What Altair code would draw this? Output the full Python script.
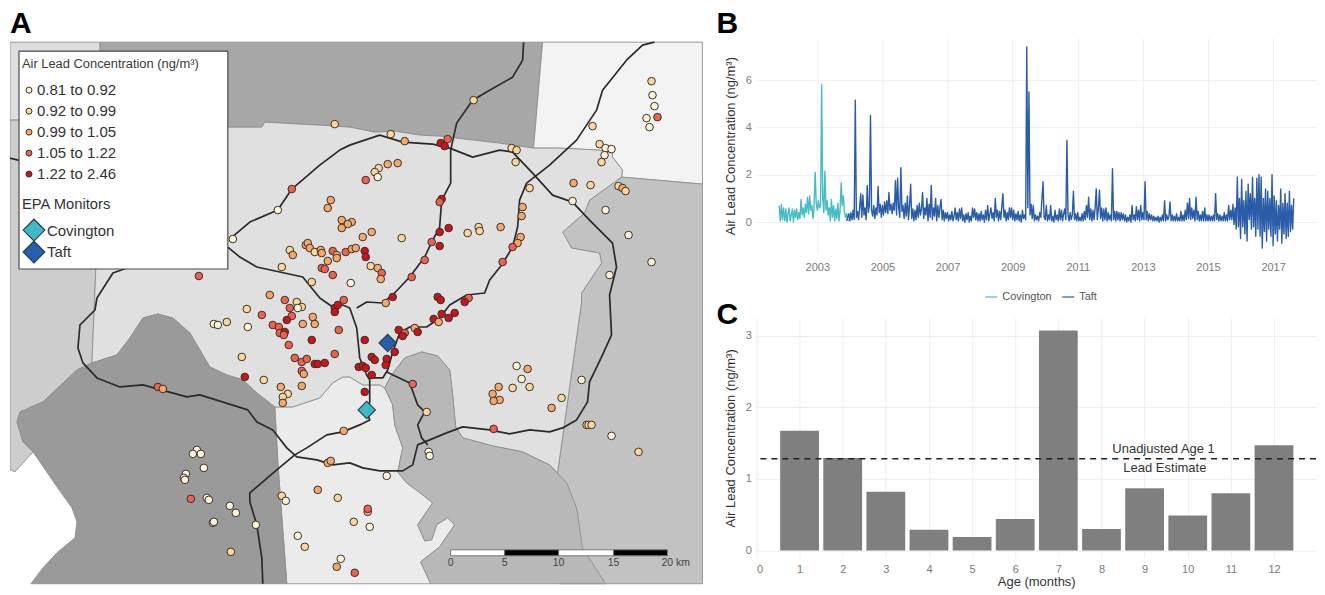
import altair as alt
import pandas as pd

FONT = "Liberation Sans"

# ---------- panel B: weekly air lead series ----------
cov_2001 = [0.7, 0.05, 0.75, 0.1, 0.6]
cov_2002 = [0.05, 0.55, 0.0, 0.35, 0.6, 0.05, 0.3, 0.55, 0.0, 0.5, 0.2, 0.55, 0.1, 0.4, 0.15, 0.95, 0.3, 0.6, 0.2, 0.75, 0.4, 1.05, 0.35, 1.1, 0.5, 0.7, 0.15, 0.6, 2.1, 0.8]
cov_2003 = [0.5, 0.9, 0.6, 0.7, 5.8, 1.0, 0.4, 2.15, 0.5, 0.9, 0.3, 0.6, 0.05, 0.95, 0.2, 0.7, 0.05, 0.55, 0.15, 0.8, 0.05, 0.5, 1.65, 0.7, 1.1, 0.4, 0.2, 0.35, 0.1, 0.05]
taft_2003 = [0.05, 0.2, 0.35]
taft_2004 = [0.05, 0.4, 0.1, 0.5, 0.1, 5.15, 0.2, 0.45, 0.1, 0.6, 1.2, 0.2, 1.15, 0.3, 0.6, 0.1, 1.55, 0.4, 0.7, 4.5, 0.5, 0.25, 0.7, 0.15, 0.6, 0.3, 1.5, 0.4, 0.75, 0.2]
taft_2005 = [0.7, 0.3, 0.85, 0.4, 0.9, 0.35, 1.25, 0.5, 0.75, 0.35, 0.8, 0.5, 1.75, 0.3, 1.85, 0.6, 0.2, 2.3, 0.45, 0.7, 0.15, 0.8, 0.25, 1.1, 0.1, 0.7, 1.6, 0.15, 0.55, 0.05]
taft_2006 = [0.5, 0.1, 0.7, 0.2, 0.8, 0.3, 0.55, 1.25, 0.15, 0.6, 0.3, 1.0, 0.05, 0.75, 0.2, 1.55, 0.1, 0.6, 0.25, 1.0, 0.05, 0.7, 0.2, 0.6, 0.95, 0.1, 0.5, 0.05, 0.4, 0.15]
taft_2007 = [0.4, 0.05, 0.3, 0.1, 0.45, 0.05, 0.25, 0.6, 0.1, 0.4, 0.05, 0.55, 0.15, 0.6, 0.05, 0.3, 0.0, 0.35, 0.1, 0.4, 0.0, 0.25, 0.05, 0.6, 0.2, 0.55, 0.1, 0.4, 0.05, 0.35]
taft_2008 = [0.05, 0.45, 0.1, 0.3, 0.0, 0.5, 0.1, 0.7, 0.05, 0.35, 0.6, 0.15, 0.4, 0.05, 1.0, 0.2, 0.5, 0.05, 0.45, 0.1, 0.65, 1.2, 0.2, 0.5, 0.05, 0.4, 0.1, 0.6, 0.2, 0.6]
taft_2009 = [0.1, 0.5, 0.05, 0.35, 0.1, 0.45, 0.05, 0.3, 0.0, 0.5, 0.15, 0.3, 0.1, 7.4, 0.6, 5.5, 0.3, 0.75, 0.15, 0.7, 0.05, 0.3, 0.1, 0.25, 0.05, 0.4, 0.2, 1.0, 1.7, 0.2]
taft_2010 = [0.1, 0.7, 0.05, 0.3, 0.1, 0.7, 0.05, 0.25, 0.0, 0.5, 0.1, 0.3, 0.05, 0.55, 0.1, 0.5, 0.05, 0.35, 0.55, 0.1, 3.45, 0.3, 0.05, 0.4, 0.1, 0.3, 1.3, 0.1, 0.35, 0.05]
taft_2011 = [0.4, 0.05, 0.2, 0.05, 0.35, 0.05, 0.45, 0.1, 0.7, 0.2, 1.05, 0.1, 0.55, 0.05, 0.5, 0.1, 0.6, 1.4, 0.1, 0.55, 1.35, 0.15, 0.6, 0.05, 0.55, 0.1, 0.6, 0.05, 0.4, 0.1]
taft_2012 = [0.3, 0.05, 2.25, 0.1, 0.45, 0.05, 0.45, 0.1, 0.4, 0.05, 0.4, 0.1, 0.35, 0.05, 0.3, 0.0, 0.2, 0.05, 0.3, 0.0, 0.7, 0.1, 0.3, 0.05, 0.65, 0.1, 0.5, 0.05, 0.7, 0.1]
taft_2013 = [0.4, 0.1, 1.7, 0.1, 0.45, 0.05, 0.35, 0.1, 0.3, 0.05, 0.25, 0.05, 0.2, 0.05, 0.25, 0.0, 0.2, 0.05, 0.3, 0.05, 0.9, 0.05, 0.3, 0.1, 0.25, 0.85, 0.05, 0.3, 0.05, 0.25]
taft_2014 = [0.05, 0.35, 0.05, 0.2, 0.05, 0.45, 0.05, 0.3, 0.05, 0.5, 0.1, 0.8, 0.15, 1.0, 0.1, 0.6, 0.15, 0.5, 0.05, 1.05, 0.1, 0.45, 0.05, 0.3, 0.05, 0.45, 0.05, 0.6, 0.05, 0.3]
taft_2015 = [0.05, 0.3, 0.05, 0.25, 0.05, 0.3, 0.05, 1.2, 0.1, 0.35, 0.05, 0.3, 0.05, 0.25, 0.05, 0.4, 0.05, 0.3, 0.05, 0.7, 0.1, 0.5, 0.1, 0.75, -0.1, 0.6, -0.3, 1.9, -0.2, 1.0]
taft_2016 = [-0.7, 1.8, -0.2, 0.9, -0.5, 1.3, -0.8, 1.6, 0.1, 1.2, -0.3, 1.9, -0.2, 1.0, -0.6, 1.85, -0.3, 2.0, -0.6, 1.9, -1.1, 1.0, -0.4, 1.4, -0.8, 1.3, -0.3, 1.0, -0.6, 2.0]
taft_2017 = [-1.0, 1.1, -0.5, 0.9, -0.8, 0.7, -0.3, 1.4, -0.9, 0.8, -0.5, 1.2, -0.7, 0.8, -0.6, 1.3, -0.4, 0.7, -0.3, 1.0]

series_b = [
    ("Covington", 2001.83, cov_2001), ("Covington", 2002.0, cov_2002), ("Covington", 2003.0, cov_2003),
    ("Taft", 2003.9, taft_2003), ("Taft", 2004.0, taft_2004), ("Taft", 2005.0, taft_2005),
    ("Taft", 2006.0, taft_2006), ("Taft", 2007.0, taft_2007), ("Taft", 2008.0, taft_2008),
    ("Taft", 2009.0, taft_2009), ("Taft", 2010.0, taft_2010), ("Taft", 2011.0, taft_2011),
    ("Taft", 2012.0, taft_2012), ("Taft", 2013.0, taft_2013), ("Taft", 2014.0, taft_2014),
    ("Taft", 2015.0, taft_2015), ("Taft", 2016.0, taft_2016), ("Taft", 2017.0, taft_2017),
]
rows_b = []
for station, start, vals in series_b:
    for i, v in enumerate(vals):
        rows_b.append({"year": start + i / 30, "lead": v, "station": station})
df_b = pd.DataFrame(rows_b)

# ---------- panel C ----------
ages = list(range(1, 13))
age_lead = [1.67, 1.29, 0.82, 0.29, 0.19, 0.44, 3.07, 0.30, 0.87, 0.49, 0.80, 1.47]
unadjusted = 1.28

# ---------- panel A: map geometry in map units ----------
frame = [[10, 8], [757, 8], [757, 585], [10, 585]]
top_left = [[10, 42], [100, 42], [102, 120], [10, 120]]
left_strip = [[10, 120], [102, 120], [92, 363], [77, 370], [43, 402], [20, 412], [17, 422], [23, 442], [33, 452], [15, 472], [10, 470]]
north_dark = [[100, 42], [543, 42], [534, 148], [500, 143], [465, 139], [440, 136], [420, 135], [395, 131], [375, 132], [350, 127], [320, 125], [265, 122], [262, 127], [228, 127], [102, 120]]
north_east = [[543, 42], [703, 42], [703, 184], [622, 177], [623, 170], [613, 157], [613, 153], [600, 150], [560, 148], [534, 148]]
east_county = [[622, 177], [703, 184], [703, 584], [560, 584], [558, 473], [582, 302], [582, 293], [602, 263], [600, 253], [572, 248], [563, 232], [585, 213], [590, 200]]
central = [[102, 120], [228, 127], [262, 127], [265, 122], [320, 125], [350, 127], [375, 132], [395, 131], [420, 135], [440, 136], [465, 139], [500, 143], [534, 148], [560, 148], [600, 150], [613, 153], [613, 157], [623, 170], [622, 177], [590, 200], [585, 213], [563, 232], [572, 248], [600, 253], [602, 263], [582, 293], [582, 302], [558, 473], [550, 465], [523, 452], [493, 446], [463, 438], [456, 427], [453, 395], [450, 370], [438, 356], [422, 352], [405, 358], [392, 375], [385, 388], [380, 385], [363, 385], [350, 377], [343, 377], [333, 383], [320, 398], [293, 407], [275, 407], [257, 393], [243, 380], [227, 375], [210, 367], [190, 333], [173, 318], [158, 314], [143, 318], [130, 338], [117, 355], [92, 363]]
south_light = [[275, 407], [293, 407], [320, 398], [333, 383], [343, 377], [350, 377], [363, 385], [380, 385], [385, 388], [393, 405], [395, 425], [403, 448], [398, 472], [407, 483], [423, 495], [433, 503], [418, 525], [425, 541], [432, 540], [437, 525], [448, 518], [455, 525], [440, 547], [421, 562], [431, 584], [287, 584], [278, 462]]
west_dark = [[17, 422], [20, 412], [43, 402], [77, 370], [92, 363], [117, 355], [130, 338], [143, 318], [158, 314], [173, 318], [190, 333], [210, 367], [227, 375], [243, 380], [257, 393], [275, 407], [278, 462], [287, 584], [31, 584], [43, 568], [57, 553], [75, 538], [77, 522], [72, 508], [57, 487], [40, 462], [33, 452], [23, 442]]
river_county = [[385, 388], [392, 375], [405, 358], [422, 352], [438, 356], [450, 370], [453, 395], [456, 427], [463, 438], [493, 446], [523, 452], [550, 465], [567, 483], [577, 508], [583, 548], [606, 584], [431, 584], [421, 562], [440, 547], [455, 525], [448, 518], [437, 525], [432, 540], [425, 541], [418, 525], [433, 503], [423, 495], [407, 483], [398, 472], [403, 448], [395, 425], [393, 405]]
polygons = [(top_left, "#dedede"), (left_strip, "#cdcdcd"), (north_dark, "#a7a7a7"), (north_east, "#f3f3f3"),
            (east_county, "#c2c2c2"), (south_light, "#ebebeb"), (central, "#e0e0e0"), (west_dark, "#9a9a9a"),
            (river_county, "#b8b8b8")]

road_ring = [[127, 268], [113, 273], [97, 298], [95, 310], [80, 325], [78, 348], [83, 363], [97, 378], [120, 387], [143, 385], [187, 397], [200, 395], [248, 410], [257, 422], [273, 430], [287, 448], [297, 457], [317, 460], [333, 465], [350, 463], [363, 468], [380, 471], [403, 471], [413, 465], [418, 445], [430, 440], [447, 433], [463, 427], [490, 430], [510, 434], [530, 430], [550, 432], [563, 428], [577, 420], [588, 402], [590, 382], [603, 355], [612, 335], [610, 295], [612, 287], [617, 267], [613, 243], [590, 220], [573, 202], [553, 195], [533, 173], [513, 152], [500, 150], [473, 157], [450, 148], [433, 144], [403, 142], [380, 135], [350, 145], [340, 150], [320, 165], [292, 189], [278, 210], [250, 222], [231, 238]]
road_inner = [[228, 247], [240, 257], [257, 267], [280, 272], [303, 277], [320, 298], [333, 307], [343, 305], [350, 308], [357, 328], [358, 338], [360, 358], [367, 375], [370, 380], [370, 402], [367, 412], [370, 420], [360, 425], [343, 432], [327, 435], [307, 448], [295, 455], [277, 470], [250, 493], [250, 502], [257, 525], [262, 558], [263, 584]]
road_north = [[524, 42], [523, 60], [513, 77], [490, 90], [473, 100], [457, 123], [451, 150], [451, 183], [442, 200], [440, 227], [432, 242], [425, 257], [410, 277], [393, 295], [383, 303], [367, 302], [357, 308]]
road_east = [[370, 378], [383, 378], [388, 370], [393, 352], [400, 333], [410, 327], [427, 327], [440, 318], [450, 305], [467, 295], [485, 293], [490, 280], [502, 265], [513, 247], [518, 227], [520, 200], [527, 183], [550, 165], [577, 140], [597, 110], [603, 90], [627, 60], [643, 45], [655, 42]]
road_spur = [[387, 372], [410, 383], [418, 405], [425, 412], [418, 425], [422, 438], [428, 445]]
road_west = [[10, 158], [60, 170], [100, 190], [150, 220], [228, 240]]
roads = [road_ring, road_inner, road_north, road_east, road_spur, road_west]

bar_white = [[[451, 550], [505, 550], [505, 556], [451, 556]], [[559, 550], [614, 550], [614, 556], [559, 556]]]
bar_black = [[[505, 550], [559, 550], [559, 556], [505, 556]], [[614, 550], [668, 550], [668, 556], [614, 556]]]
bar_labels = [(451, "0"), (505, "5"), (559, "10"), (614, "15"), (662, "20 km")]

# sites: x, y, concentration class 1-5
sites_a = [(335,124,2),(292,189,4),(278,210,1),(331,200,3),(328,208,3),(342,220,3),(352,222,3),(348,224,3),(342,228,3),(233,239,1),
 (306,245,3),(308,243,3),(310,248,3),(290,250,2),(293,255,3),(315,252,2),(321,250,3),(322,253,3),(333,251,4),(337,255,3),
 (337,258,3),(346,252,4),(352,249,3),(356,248,3),(328,261,3),(282,267,2),(322,268,4),(325,269,4),(333,275,4),(199,276,4),
 (312,282,2),(351,283,1),(270,295,3)]
sites_b = [(391,134,2),(405,141,3),(474,100,2),(448,139,4),(441,143,5),(445,146,5),(512,148,2),(517,150,2),(516,162,2),(398,163,3),
 (388,164,3),(379,168,2),(375,172,2),(378,177,1),(366,180,4),(530,188,2),(442,199,5),(440,202,4),(523,207,3),(522,216,3),
 (440,232,5),(449,228,5),(479,227,2),(480,231,2),(468,233,2),(501,227,3),(372,232,3),(363,237,3),(402,238,2),(521,237,3),
 (518,243,3),(513,247,4),(432,242,4),(440,246,5),(365,251,5),(366,257,5),(425,260,4),(503,262,4),(371,266,2),(378,268,3),
 (382,273,4),(381,279,3),(412,277,4)]
sites_c = [(652,81,2),(653,95,1),(655,106,1),(647,118,1),(658,117,4),(650,127,1),(593,126,2),(600,144,2),(606,148,1),(612,149,1),
 (605,155,1),(602,162,2),(574,183,3),(591,185,2),(619,186,2),(623,188,3),(626,191,2),(573,201,1),(606,210,1),(629,235,1),
 (652,262,1),(610,275,1)]
sites_d = [(285,300,4),(297,302,2),(302,307,2),(298,308,1),(290,308,4),(292,316,4),(287,320,5),(247,309,2),(262,315,4),(227,322,2),
 (214,324,1),(218,325,1),(248,327,1),(273,325,4),(279,327,4),(303,324,3),(313,317,3),(315,324,3),(280,333,4),(285,332,5),
 (284,335,4),(339,330,4),(312,340,5),(289,345,4),(335,354,4),(242,357,2),(295,358,4),(302,362,4),(307,359,4),(315,364,5),
 (318,364,5),(325,363,5),(302,371,4),(304,374,3),(245,377,5),(264,380,2),(302,386,3),(281,387,3),(288,394,2),(283,397,2),
 (283,403,3),(158,387,4),(163,389,3),(335,308,5),(338,305,5),(344,300,4),(335,312,5),(359,367,5)]
sites_e = [(197,450,1),(193,454,1),(201,454,1),(204,468,1),(186,474,1),(184,478,1),(185,480,1),(191,499,4),(207,498,1),(209,500,1),
 (230,506,1),(236,513,1),(213,523,1),(214,522,1),(256,525,1),(231,552,2),(282,496,2),(286,501,1),(318,490,3),(338,498,2),
 (354,522,2),(298,536,1),(305,547,2),(341,559,1),(337,567,3),(355,573,4),(344,431,3),(328,463,3),(331,461,3)]
sites_f = [(386,303,3),(393,297,5),(438,297,5),(441,300,5),(469,298,4),(465,302,5),(455,313,5),(442,314,5),(434,319,5),(439,322,3),
 (449,318,5),(399,330,5),(415,328,3),(418,332,5),(405,333,4),(403,336,5),(395,352,5),(365,340,5),(372,357,5),(375,360,5),
 (387,359,5),(386,365,5),(363,366,5),(366,368,5),(372,375,5),(365,392,5),(413,384,4),(427,412,2),(429,452,1),(430,456,1),
 (387,476,1),(368,512,3),(368,509,4),(370,527,1),(494,429,4),(517,366,1),(528,369,3),(522,379,1),(499,387,3),(513,388,2),
 (530,387,2),(493,394,3),(500,400,3),(494,401,3),(562,398,2),(552,408,3),(582,380,1),(587,425,2),(589,425,2),(592,425,2),
 (612,436,1),(639,452,2)]
all_sites = sites_a + sites_b + sites_c + sites_d + sites_e + sites_f

class_colors = ["#fdf5d5", "#fcd797", "#f6a868", "#f0604a", "#c9141a"]
class_labels = ["0.81 to 0.92", "0.92 to 0.99", "0.99 to 1.05", "1.05 to 1.22", "1.22 to 2.46"]
monitors = [("Covington", 367, 410, "#3fb9c6"), ("Taft", 388, 343, "#2460ae")]

PROJ = alt.Projection(type="identity", scale=1, translate=[-10, -8])


def feature(kind, coords, fill=""):
    geom = [coords + [coords[0]]] if kind == "Polygon" else coords
    return {"type": "Feature", "properties": {"fill": fill},
            "geometry": {"type": kind, "coordinates": geom}}


def shapes(features, **mark):
    return (alt.Chart(alt.Data(values=features))
            .mark_geoshape(**mark)
            .encode(fill=alt.Fill("properties.fill:N", scale=None))
            .properties(projection=PROJ))


def labels(rows, **mark):
    return (alt.Chart(pd.DataFrame(rows, columns=["x", "y", "t"]))
            .mark_text(font=FONT, **mark)
            .encode(longitude="x:Q", latitude="y:Q", text="t:N")
            .properties(projection=PROJ))


def dots(rows, size):
    d = pd.DataFrame(rows, columns=["x", "y", "c"])
    return (alt.Chart(d)
            .mark_point(filled=True, shape="circle", size=size, stroke="#38302c", strokeWidth=1, opacity=1)
            .encode(longitude="x:Q", latitude="y:Q",
                    fill=alt.Fill("c:O", scale=alt.Scale(domain=[1, 2, 3, 4, 5], range=class_colors), legend=None))
            .properties(projection=PROJ))


def diamonds(rows, size):
    d = pd.DataFrame(rows, columns=["x", "y", "f"])
    return (alt.Chart(d)
            .mark_point(filled=True, shape="diamond", size=size, stroke="#2c3f4a", strokeWidth=1.2, opacity=1)
            .encode(longitude="x:Q", latitude="y:Q", fill=alt.Fill("f:N", scale=None))
            .properties(projection=PROJ))


frame_layer = shapes([feature("Polygon", frame, "transparent")], stroke="transparent", strokeWidth=0)
poly_layer = shapes([feature("Polygon", p, f) for p, f in polygons], stroke="#8e8e8e", strokeWidth=0.9)
road_layer = (alt.Chart(alt.Data(values=[feature("LineString", r) for r in roads]))
              .mark_geoshape(filled=False, stroke="#2a2a2a", strokeWidth=1.7, strokeJoin="round")
              .properties(projection=PROJ))
site_layer = dots(all_sites, 58)
monitor_layer = diamonds([(x, y, f) for _, x, y, f in monitors], 300)

legend_box = [[19, 51], [228, 51], [228, 269], [19, 269]]
box_layer = shapes([feature("Polygon", legend_box, "#ffffff")], stroke="#4a4a4a", strokeWidth=1.2)
legend_title = labels([(22, 64, "Air Lead Concentration (ng/m³)")], fontSize=12.9, align="left", baseline="middle", color="#3a3a3a")
class_rows = [90, 111, 132, 153, 174]
legend_dots = dots([(29, y, i + 1) for i, y in enumerate(class_rows)], 36)
legend_text = labels([(37, y, t) for y, t in zip(class_rows, class_labels)], fontSize=15, align="left", baseline="middle", color="#333333")
epa_title = labels([(22, 205, "EPA Monitors")], fontSize=14.8, align="left", baseline="middle", color="#333333")
legend_diamonds = diamonds([(34, 230, monitors[0][3]), (34, 252, monitors[1][3])], 470)
legend_mon = labels([(47, 231, "Covington"), (47, 252, "Taft")], fontSize=15, align="left", baseline="middle", color="#333333")

bar_layer = shapes([feature("Polygon", p, "#ffffff") for p in bar_white] + [feature("Polygon", p, "#000000") for p in bar_black],
                   stroke="#777777", strokeWidth=1)
bar_text_center = labels([(x, 563, t) for x, t in bar_labels[:-1]], fontSize=10.5, align="center", baseline="middle", color="#444444")
bar_text_left = labels([(bar_labels[-1][0], 563, bar_labels[-1][1])], fontSize=10.5, align="left", baseline="middle", color="#444444")

letters = labels([(10, 33, "A"), (717, 33, "B"), (717, 324, "C")], fontSize=30, fontWeight="bold", align="left", baseline="alphabetic", color="#000000")

map_panel = alt.layer(frame_layer, poly_layer, road_layer, site_layer, monitor_layer, bar_layer, bar_text_center, bar_text_left,
                      box_layer, legend_title, legend_dots, legend_text, epa_title, legend_diamonds, legend_mon,
                      letters).properties(width=747, height=577)

axis_common = dict(domain=False, ticks=False, gridColor="#efefef", gridWidth=1, labelColor="#7a7a7a", labelFont=FONT,
                   labelFontSize=11, titleFont=FONT, titleFontSize=13, titleFontWeight="normal", titleColor="#333333")
ytitle = "Air Lead Concentration (ng/m³)"

panel_b = (alt.Chart(df_b)
           .mark_line(strokeWidth=1.4, strokeJoin="round")
           .encode(
               x=alt.X("year:Q", title=None, scale=alt.Scale(domain=[2001.13, 2018.317], nice=False, zero=False),
                       axis=alt.Axis(values=[2003, 2005, 2007, 2009, 2011, 2013, 2015, 2017], format="d", labelPadding=8, **axis_common)),
               y=alt.Y("lead:Q", title=ytitle, scale=alt.Scale(domain=[-1.31, 7.77], nice=False, zero=False),
                       axis=alt.Axis(values=[0, 2, 4, 6], labelPadding=5, titlePadding=8, **axis_common)),
               color=alt.Color("station:N", scale=alt.Scale(domain=["Covington", "Taft"], range=["#45bcc6", "#2a5ca8"]),
                               legend=alt.Legend(title=None, orient="none", legendX=975, legendY=282, direction="horizontal",
                                                 symbolType="stroke", symbolSize=144, symbolStrokeWidth=1.2, labelFont=FONT,
                                                 labelFontSize=11, labelColor="#555555", columnPadding=7)),
           ).properties(width=560, height=215))

df_c = pd.DataFrame({"age": ages, "lead": age_lead})
x_c = alt.X("age:Q", title="Age (months)", scale=alt.Scale(domain=[0, 12.974], nice=False, zero=False, padding=0),
            axis=alt.Axis(values=list(range(13)), format="d", labelPadding=6, titlePadding=1, **axis_common))
y_c = alt.Y("lead:Q", title=ytitle, scale=alt.Scale(domain=[-0.102, 3.245], nice=False, zero=False, padding=0),
            axis=alt.Axis(values=[0, 1, 2, 3], format="d", labelPadding=5, titlePadding=8, **axis_common))
bars_c = alt.Chart(df_c).mark_bar(size=38.8, color="#7f7f7f").encode(x=x_c, y=y_c, y2=alt.Y2(datum=0))
rule_c = (alt.Chart(pd.DataFrame({"lead": [unadjusted]}))
          .mark_rule(color="#222222", strokeWidth=1.5, strokeDash=[6, 5]).encode(y="lead:Q"))
text_c = (alt.Chart(pd.DataFrame({"age": [9.44, 9.47], "lead": [1.42, 1.15], "t": ["Unadjusted Age 1", "Lead Estimate"]}))
          .mark_text(font=FONT, fontSize=13, color="#333333").encode(x="age:Q", y="lead:Q", text="t:N"))
panel_c = alt.layer(bars_c, rule_c, text_c).properties(width=560, height=240)

spacer = (alt.Chart(pd.DataFrame({"s": [0]})).mark_point(opacity=0, size=4)
          .encode(x=alt.value(5), y=alt.value(15)).properties(width=10, height=30))

right = alt.vconcat(spacer, alt.vconcat(panel_b, panel_c, spacing=65, bounds="flush"), spacing=0, bounds="flush")
chart = (alt.hconcat(map_panel, right, spacing=0, bounds="flush")
         .properties(padding={"left": 2, "top": 0, "right": 0, "bottom": 0}, background="#ffffff")
         .configure_view(stroke="transparent", strokeWidth=0))

chart.save("out.html", embed_options={"renderer": "svg", "actions": False})
